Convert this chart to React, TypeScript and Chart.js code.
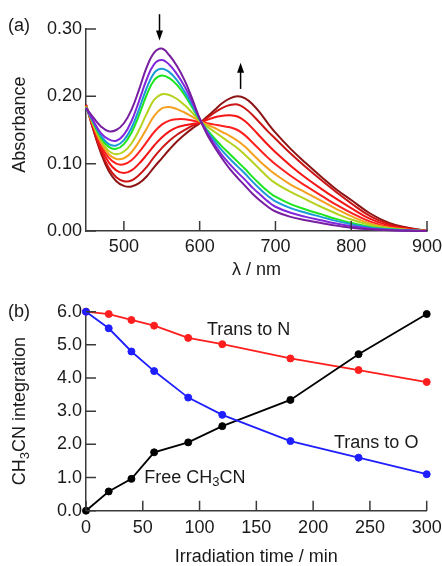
import React, { useEffect, useRef } from "react";
import { Chart, registerables } from "chart.js";
Chart.register(...registerables);

const FAMILY = '"Liberation Sans", Arial, Helvetica, sans-serif';
const AXIS_COLOR = "#3a3a3a";
const TEXT_COLOR = "#1a1a1a";

// ---------- Panel (a): absorption spectra ----------
const wavelengths = [450, 460, 470, 480, 490, 500, 510, 520, 530, 540, 550, 560, 570, 580, 590, 600, 610, 620, 630, 640, 650, 660, 670, 680, 690, 700, 720, 740, 760, 780, 800, 825, 850, 875, 900];

const specPurple = [0.183, 0.168, 0.155, 0.148, 0.150, 0.160, 0.180, 0.210, 0.243, 0.265, 0.271, 0.261, 0.245, 0.224, 0.197, 0.167, 0.143, 0.124, 0.107, 0.092, 0.079, 0.067, 0.055, 0.045, 0.036, 0.029, 0.021, 0.016, 0.012, 0.008, 0.005, 0.0025, 0.001, 0.0004, 0];
const specViolet = [0.183, 0.163, 0.145, 0.136, 0.134, 0.143, 0.163, 0.193, 0.225, 0.248, 0.254, 0.247, 0.233, 0.215, 0.192, 0.167, 0.146, 0.128, 0.112, 0.099, 0.087, 0.076, 0.064, 0.054, 0.044, 0.036, 0.027, 0.021, 0.016, 0.011, 0.007, 0.0035, 0.0015, 0.0006, 0];
const specBlue = [0.183, 0.161, 0.141, 0.129, 0.127, 0.135, 0.153, 0.181, 0.212, 0.235, 0.241, 0.236, 0.224, 0.207, 0.187, 0.166, 0.148, 0.133, 0.119, 0.107, 0.096, 0.085, 0.073, 0.062, 0.052, 0.044, 0.034, 0.027, 0.021, 0.015, 0.010, 0.005, 0.0025, 0.001, 0];
const specGreen = [0.184, 0.160, 0.138, 0.125, 0.122, 0.129, 0.146, 0.172, 0.202, 0.224, 0.231, 0.227, 0.217, 0.202, 0.184, 0.165, 0.150, 0.137, 0.125, 0.114, 0.103, 0.092, 0.080, 0.069, 0.059, 0.051, 0.040, 0.032, 0.025, 0.018, 0.012, 0.006, 0.003, 0.0012, 0];
const specYellowGreen = [0.185, 0.158, 0.134, 0.119, 0.114, 0.118, 0.130, 0.150, 0.174, 0.195, 0.203, 0.202, 0.196, 0.187, 0.176, 0.164, 0.155, 0.147, 0.139, 0.131, 0.123, 0.113, 0.102, 0.091, 0.080, 0.071, 0.058, 0.047, 0.036, 0.026, 0.017, 0.009, 0.004, 0.0015, 0];
const specOrange = [0.185, 0.156, 0.131, 0.114, 0.107, 0.108, 0.117, 0.133, 0.152, 0.171, 0.182, 0.184, 0.181, 0.176, 0.170, 0.163, 0.158, 0.153, 0.147, 0.141, 0.134, 0.125, 0.114, 0.103, 0.093, 0.084, 0.069, 0.057, 0.045, 0.033, 0.022, 0.011, 0.005, 0.002, 0];
const specRed1 = [0.186, 0.155, 0.127, 0.109, 0.100, 0.099, 0.105, 0.117, 0.132, 0.147, 0.158, 0.164, 0.166, 0.166, 0.164, 0.162, 0.160, 0.158, 0.156, 0.154, 0.150, 0.142, 0.131, 0.120, 0.109, 0.099, 0.082, 0.067, 0.053, 0.039, 0.027, 0.014, 0.006, 0.002, 0];
const specRed2 = [0.187, 0.153, 0.123, 0.102, 0.090, 0.086, 0.090, 0.100, 0.113, 0.127, 0.139, 0.148, 0.154, 0.157, 0.159, 0.161, 0.165, 0.169, 0.171, 0.172, 0.170, 0.163, 0.152, 0.140, 0.128, 0.117, 0.097, 0.079, 0.063, 0.048, 0.034, 0.018, 0.008, 0.003, 0];
const specRed3 = [0.187, 0.150, 0.118, 0.094, 0.080, 0.074, 0.075, 0.083, 0.095, 0.110, 0.123, 0.134, 0.143, 0.150, 0.156, 0.160, 0.168, 0.176, 0.183, 0.187, 0.188, 0.182, 0.172, 0.160, 0.148, 0.137, 0.115, 0.095, 0.076, 0.058, 0.041, 0.022, 0.010, 0.004, 0];
const specDarkRed = [0.188, 0.149, 0.115, 0.089, 0.074, 0.067, 0.066, 0.071, 0.081, 0.095, 0.108, 0.121, 0.133, 0.143, 0.152, 0.160, 0.170, 0.180, 0.190, 0.197, 0.200, 0.197, 0.188, 0.175, 0.160, 0.146, 0.122, 0.101, 0.081, 0.062, 0.046, 0.026, 0.012, 0.005, 0];

const spectra = [specPurple, specViolet, specBlue, specGreen, specYellowGreen, specOrange, specRed1, specRed2, specRed3, specDarkRed];
const spectraColors = ["#781ea0", "#8228dc", "#1a9ad6", "#1ee61e", "#b4d21e", "#f5a01e", "#ff2020", "#f51515", "#cc1515", "#8c1414"];

const absTicks = [0, 0.1, 0.2, 0.3];
const nmTicks = [500, 600, 700, 800, 900];

// ---------- Panel (b): CH3CN integration ----------
const timeMin = [0, 20, 40, 60, 90, 120, 180, 240, 300];
const transToN = [6.0, 5.93, 5.75, 5.58, 5.21, 5.02, 4.59, 4.24, 3.88];
const transToO = [6.0, 5.5, 4.8, 4.21, 3.41, 2.89, 2.1, 1.6, 1.1];
const freeCH3CN = [0.0, 0.58, 0.96, 1.76, 2.06, 2.55, 3.34, 4.72, 5.93];

const intTicks = [0, 1, 2, 3, 4, 5, 6];
const timeTicks = [0, 50, 100, 150, 200, 250, 300];

const font = (size: number) => `${size}px ${FAMILY}`;

type Part = { t: string; sub?: boolean };
function drawRich(ctx: CanvasRenderingContext2D, parts: Part[], x: number, y: number, align: "left" | "center") {
  ctx.textBaseline = "middle";
  ctx.textAlign = "left";
  let w = 0;
  for (const p of parts) {
    ctx.font = font(p.sub ? 13 : 18);
    w += ctx.measureText(p.t).width;
  }
  let cx = align === "center" ? x - w / 2 : x;
  for (const p of parts) {
    ctx.font = font(p.sub ? 13 : 18);
    ctx.fillText(p.t, cx, p.sub ? y + 5 : y);
    cx += ctx.measureText(p.t).width;
  }
}

const inwardTicks = {
  id: "inwardTicks",
  afterDatasetsDraw(chart: any) {
    const { ctx, chartArea, scales } = chart;
    const len = 10;
    ctx.save();
    ctx.strokeStyle = AXIS_COLOR;
    ctx.lineWidth = 1.5;
    ctx.beginPath();
    for (const t of scales.x.ticks) {
      const px = scales.x.getPixelForValue(t.value);
      ctx.moveTo(px, chartArea.bottom);
      ctx.lineTo(px, chartArea.bottom - len);
    }
    for (const t of scales.y.ticks) {
      const py = scales.y.getPixelForValue(t.value);
      ctx.moveTo(chartArea.left, py);
      ctx.lineTo(chartArea.left + len, py);
    }
    ctx.stroke();
    ctx.restore();
  },
};

function drawArrow(ctx: CanvasRenderingContext2D, x: number, yTail: number, yTip: number) {
  const dir = Math.sign(yTip - yTail);
  ctx.beginPath();
  ctx.moveTo(x, yTail);
  ctx.lineTo(x, yTip - dir * 7);
  ctx.stroke();
  ctx.beginPath();
  ctx.moveTo(x, yTip);
  ctx.lineTo(x - 3.5, yTip - dir * 10);
  ctx.lineTo(x + 3.5, yTip - dir * 10);
  ctx.closePath();
  ctx.fill();
}

const annotateA = {
  id: "annotateA",
  afterDraw(chart: any) {
    const { ctx, scales } = chart;
    const { x, y } = scales;
    ctx.save();
    ctx.fillStyle = TEXT_COLOR;
    ctx.font = font(18);
    ctx.textBaseline = "middle";
    ctx.textAlign = "left";
    ctx.fillText("(a)", 8, 26);
    ctx.save();
    ctx.translate(20, y.getPixelForValue(0.158));
    ctx.rotate(-Math.PI / 2);
    ctx.textAlign = "center";
    ctx.fillText("Absorbance", 0, 0);
    ctx.restore();
    ctx.strokeStyle = "#000";
    ctx.fillStyle = "#000";
    ctx.lineWidth = 1.5;
    drawArrow(ctx, x.getPixelForValue(547), y.getPixelForValue(0.322), y.getPixelForValue(0.283));
    drawArrow(ctx, x.getPixelForValue(654), y.getPixelForValue(0.211), y.getPixelForValue(0.25));
    ctx.restore();
  },
};

const annotateB = {
  id: "annotateB",
  afterDraw(chart: any) {
    const { ctx, scales } = chart;
    const { x, y } = scales;
    ctx.save();
    ctx.fillStyle = TEXT_COLOR;
    ctx.font = font(18);
    ctx.textBaseline = "middle";
    ctx.textAlign = "left";
    ctx.fillText("(b)", 8, 29);
    ctx.save();
    ctx.translate(20, y.getPixelForValue(3.0));
    ctx.rotate(-Math.PI / 2);
    drawRich(ctx, [{ t: "CH" }, { t: "3", sub: true }, { t: "CN integration" }], 0, 0, "center");
    ctx.restore();
    ctx.font = font(18);
    ctx.fillText("Trans to N", x.getPixelForValue(106.5), y.getPixelForValue(5.45));
    ctx.fillText("Trans to O", x.getPixelForValue(218.4), y.getPixelForValue(2.04));
    drawRich(ctx, [{ t: "Free CH" }, { t: "3", sub: true }, { t: "CN" }], x.getPixelForValue(51.3), y.getPixelForValue(1.0), "left");
    ctx.restore();
  },
};

function axisX(min: number, max: number, ticks: number[], title: string, canvasH: number, bottom: number, pad: number, titlePad: number, fmt: (v: number) => string) {
  return {
    type: "linear",
    position: "bottom",
    min,
    max,
    afterBuildTicks: (s: any) => {
      s.ticks = ticks.map((v) => ({ value: v }));
    },
    afterFit: (s: any) => {
      s.height = canvasH - bottom;
      s.paddingLeft = 0;
      s.paddingRight = 0;
    },
    grid: { display: false, drawTicks: false },
    border: { display: true, color: AXIS_COLOR, width: 1.5 },
    ticks: {
      color: TEXT_COLOR,
      font: { family: FAMILY, size: 18, lineHeight: 1.2 },
      padding: pad,
      maxRotation: 0,
      autoSkip: false,
      callback: (v: any) => fmt(Number(v)),
    },
    title: {
      display: true,
      text: title,
      color: TEXT_COLOR,
      font: { family: FAMILY, size: 18, lineHeight: 1 },
      padding: { top: 0, bottom: titlePad },
    },
  };
}

function axisY(min: number, max: number, ticks: number[], fmt: (v: number) => string) {
  return {
    type: "linear",
    position: "left",
    min,
    max,
    afterBuildTicks: (s: any) => {
      s.ticks = ticks.map((v) => ({ value: v }));
    },
    afterFit: (s: any) => {
      s.width = 86;
      s.paddingTop = 0;
      s.paddingBottom = 0;
    },
    grid: { display: false, drawTicks: false },
    border: { display: true, color: AXIS_COLOR, width: 1.5 },
    ticks: {
      color: TEXT_COLOR,
      font: { family: FAMILY, size: 18, lineHeight: 1.2 },
      padding: 4,
      autoSkip: false,
      callback: (v: any) => fmt(Number(v)),
    },
  };
}

const H = 283;

export default function App() {
  const refA = useRef<HTMLCanvasElement>(null);
  const refB = useRef<HTMLCanvasElement>(null);

  useEffect(() => {
    const chartA = new Chart(refA.current as HTMLCanvasElement, {
      type: "line",
      data: {
        datasets: spectra.map((arr, i) => ({
          label: `spectrum ${i + 1}`,
          data: wavelengths.map((w, j) => ({ x: w, y: arr[j] })),
          borderColor: spectraColors[i],
          backgroundColor: spectraColors[i],
          borderWidth: 2,
          pointRadius: 0,
          tension: 0.4,
          fill: false,
          clip: false,
        })),
      },
      options: {
        responsive: false,
        animation: false,
        events: [],
        layout: { padding: { top: 29, right: 15, left: 0, bottom: 0 } },
        plugins: { legend: { display: false }, tooltip: { enabled: false } },
        scales: {
          x: axisX(450, 900, nmTicks, "λ / nm", H, 231, 5.5, 4, (v) => String(v)),
          y: axisY(0, 0.3, absTicks, (v) => v.toFixed(2)),
        },
      } as any,
      plugins: [inwardTicks, annotateA],
    } as any);

    const series = [
      { label: "Trans to O", data: transToO, color: "#1e1eff" },
      { label: "Free CH3CN", data: freeCH3CN, color: "#000000" },
      { label: "Trans to N", data: transToN, color: "#ff1e1e" },
    ];

    const chartB = new Chart(refB.current as HTMLCanvasElement, {
      type: "line",
      data: {
        datasets: series.map((s) => ({
          label: s.label,
          data: timeMin.map((t, j) => ({ x: t, y: s.data[j] })),
          borderColor: s.color,
          backgroundColor: s.color,
          pointBackgroundColor: s.color,
          pointBorderColor: s.color,
          pointBorderWidth: 1,
          pointRadius: 3.5,
          borderWidth: 1.8,
          tension: 0,
          fill: false,
          clip: false,
        })),
      },
      options: {
        responsive: false,
        animation: false,
        events: [],
        layout: { padding: { top: 28.7, right: 15.3, left: 0, bottom: 0 } },
        plugins: { legend: { display: false }, tooltip: { enabled: false } },
        scales: {
          x: axisX(0, 300, timeTicks, "Irradiation time / min", H, 227.7, 7, 0, (v) => String(v)),
          y: axisY(0, 6, intTicks, (v) => v.toFixed(1)),
        },
      } as any,
      plugins: [inwardTicks, annotateB],
    } as any);

    return () => {
      chartA.destroy();
      chartB.destroy();
    };
  }, []);

  return (
    <div style={{ position: "absolute", left: 0, top: 0, width: 442, height: 566, background: "#ffffff", overflow: "hidden" }}>
      <canvas ref={refA} width={442} height={H} style={{ position: "absolute", left: 0, top: 0, display: "block" }} />
      <canvas ref={refB} width={442} height={H} style={{ position: "absolute", left: 0, top: H, display: "block" }} />
    </div>
  );
}
